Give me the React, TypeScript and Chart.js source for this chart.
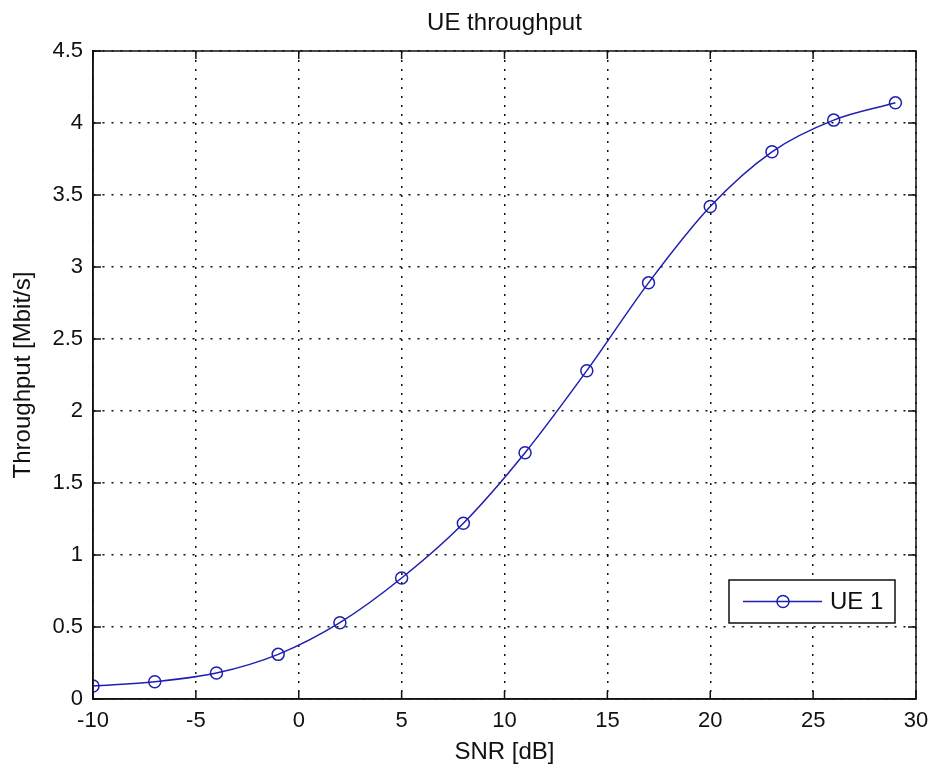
import { useEffect, useRef } from "react";
import { Chart, registerables } from "chart.js";

Chart.register(...registerables);

// SNR sweep and measured UE throughput
const snrDb = [-10, -7, -4, -1, 2, 5, 8, 11, 14, 17, 20, 23, 26, 29];
const throughputMbit = [0.09, 0.12, 0.18, 0.31, 0.53, 0.84, 1.22, 1.71, 2.28, 2.89, 3.42, 3.8, 4.02, 4.14];
const seriesLabel = "UE 1";

const xTicks = [-10, -5, 0, 5, 10, 15, 20, 25, 30];
const yTicks = [0, 0.5, 1, 1.5, 2, 2.5, 3, 3.5, 4, 4.5];

const titleText = "UE throughput";
const xTitle = "SNR [dB]";
const yTitle = "Throughput [Mbit/s]";

const FONT = "'Liberation Sans', Arial, Helvetica, sans-serif";
const LINE_BLUE = "#1f1fb0";
const INK = "#111";

// Title centred over the axes box
const axesTitle = {
  id: "axesTitle",
  afterDraw(chart: any) {
    const { ctx, chartArea: a } = chart;
    ctx.save();
    ctx.fillStyle = INK;
    ctx.font = `24px ${FONT}`;
    ctx.textAlign = "center";
    ctx.textBaseline = "middle";
    ctx.fillText(titleText, (a.left + a.right) / 2, 23);
    ctx.restore();
  },
};

// Inward tick marks on all four sides of the axes box, plus the closing border
const boxTicks = {
  id: "boxTicks",
  afterDatasetsDraw(chart: any) {
    const { ctx, chartArea: a, scales } = chart;
    const len = 8;
    ctx.save();
    ctx.strokeStyle = INK;
    ctx.lineWidth = 1.5;
    ctx.beginPath();
    for (const t of scales.x.ticks) {
      const px = scales.x.getPixelForValue(t.value);
      ctx.moveTo(px, a.bottom);
      ctx.lineTo(px, a.bottom - len);
      ctx.moveTo(px, a.top);
      ctx.lineTo(px, a.top + len);
    }
    for (const t of scales.y.ticks) {
      const py = scales.y.getPixelForValue(t.value);
      ctx.moveTo(a.left, py);
      ctx.lineTo(a.left + len, py);
      ctx.moveTo(a.right, py);
      ctx.lineTo(a.right - len, py);
    }
    ctx.stroke();
    ctx.strokeRect(a.left, a.top, a.right - a.left, a.bottom - a.top);
    ctx.restore();
  },
};

// Boxed legend in the lower-right corner of the axes
const boxLegend = {
  id: "boxLegend",
  afterDraw(chart: any) {
    const { ctx, chartArea: a } = chart;
    const ds = chart.data.datasets[0];
    const w = 166;
    const h = 43;
    const x0 = a.right - 21 - w;
    const y0 = a.bottom - 76 - h;
    const cy = y0 + h / 2;
    ctx.save();
    ctx.fillStyle = "#fff";
    ctx.fillRect(x0, y0, w, h);
    ctx.strokeStyle = INK;
    ctx.lineWidth = 1.5;
    ctx.strokeRect(x0, y0, w, h);
    ctx.strokeStyle = ds.borderColor;
    ctx.lineWidth = 1.5;
    ctx.beginPath();
    ctx.moveTo(x0 + 14, cy);
    ctx.lineTo(x0 + 93, cy);
    ctx.stroke();
    ctx.beginPath();
    ctx.arc(x0 + 54, cy, 6, 0, Math.PI * 2);
    ctx.stroke();
    ctx.fillStyle = INK;
    ctx.font = `24px ${FONT}`;
    ctx.textBaseline = "middle";
    ctx.textAlign = "left";
    ctx.fillText(ds.label, x0 + 101, cy + 1);
    ctx.restore();
  },
};

export default function App() {
  const ref = useRef<HTMLCanvasElement | null>(null);

  useEffect(() => {
    document.body.style.margin = "0";
    document.body.style.background = "#fff";
    const canvas = ref.current;
    if (!canvas) return;

    const chart = new Chart(canvas, {
      type: "line",
      data: {
        datasets: [
          {
            label: seriesLabel,
            data: snrDb.map((x, i) => ({ x, y: throughputMbit[i] })),
            borderColor: LINE_BLUE,
            borderWidth: 1.5,
            pointRadius: 6,
            pointBorderWidth: 1.5,
            pointBackgroundColor: "rgba(0,0,0,0)",
            pointBorderColor: LINE_BLUE,
            cubicInterpolationMode: "monotone",
            fill: false,
          },
        ],
      },
      plugins: [axesTitle, boxTicks, boxLegend],
      options: {
        responsive: false,
        animation: false,
        devicePixelRatio: 1,
        layout: { padding: { left: 0, right: 15, top: 51, bottom: 0 } },
        plugins: {
          legend: { display: false },
          tooltip: { enabled: false },
          title: { display: false },
        },
        scales: {
          x: {
            type: "linear",
            min: -10,
            max: 30,
            afterBuildTicks: (s: any) => {
              s.ticks = xTicks.map((value) => ({ value }));
            },
            afterFit: (s: any) => {
              s.height = 70;
              s.paddingLeft = 0;
              s.paddingRight = 0;
            },
            ticks: {
              color: INK,
              font: { family: FONT, size: 22 },
              padding: 9,
              maxRotation: 0,
              autoSkip: false,
              callback: (v: any) => String(v),
            },
            grid: { color: INK, lineWidth: 1.5, drawTicks: false },
            border: { display: true, color: INK, width: 1.5, dash: [2, 7] },
            title: {
              display: true,
              text: xTitle,
              color: INK,
              font: { family: FONT, size: 24 },
              padding: { top: 2, bottom: 2 },
            },
          },
          y: {
            type: "linear",
            min: 0,
            max: 4.5,
            afterBuildTicks: (s: any) => {
              s.ticks = yTicks.map((value) => ({ value }));
            },
            afterFit: (s: any) => {
              s.width = 93;
              s.paddingTop = 0;
              s.paddingBottom = 0;
            },
            ticks: {
              color: INK,
              font: { family: FONT, size: 22 },
              padding: 10,
              autoSkip: false,
              callback: (v: any) => String(v),
            },
            grid: { color: INK, lineWidth: 1.5, drawTicks: false },
            border: { display: true, color: INK, width: 1.5, dash: [2, 7] },
            title: {
              display: true,
              text: yTitle,
              color: INK,
              font: { family: FONT, size: 24 },
              padding: { top: 9, bottom: 6 },
            },
          },
        },
      },
    } as any);

    return () => chart.destroy();
  }, []);

  return (
    <div style={{ width: 931, height: 769, background: "#fff" }}>
      <canvas ref={ref} width={931} height={769} />
    </div>
  );
}
